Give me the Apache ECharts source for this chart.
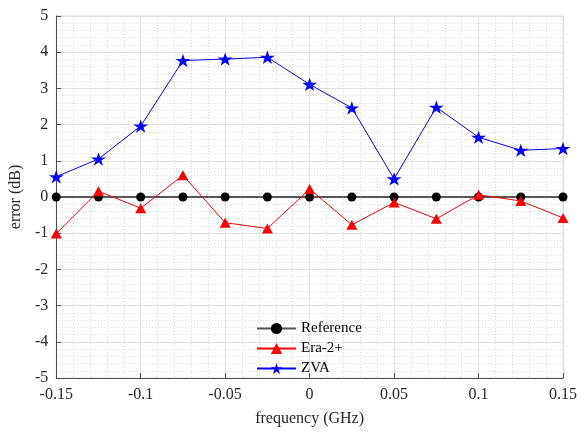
<!DOCTYPE html>
<html><head><meta charset="utf-8">
<script src="https://cdn.jsdelivr.net/npm/echarts@6/dist/echarts.min.js"></script>
<style>html,body{margin:0;padding:0;background:#fff}#c{width:584px;height:432px}</style>
</head><body><div id="c"></div>
<script>
const freq = [-0.15,-0.125,-0.1,-0.075,-0.05,-0.025,0,0.025,0.05,0.075,0.1,0.125,0.15];
const reference = [0,0,0,0,0,0,0,0,0,0,0,0,0];
const era2 = [-1.01,0.16,-0.31,0.6,-0.71,-0.87,0.22,-0.77,-0.15,-0.6,0.06,-0.11,-0.58];
const zva = [0.56,1.05,1.96,3.77,3.81,3.86,3.11,2.46,0.50,2.48,1.65,1.29,1.34];
const xTicks = ['-0.15','-0.1','-0.05','0','0.05','0.1','0.15'];
const names = ['Reference','Era-2+','ZVA'];

const star = 'path://M1,0 L1.2245,0.691 L1.951,0.691 L1.363,1.118 L1.588,1.809 L1,1.382 L0.412,1.809 L0.637,1.118 L0.049,0.691 L0.7755,0.691 Z';
const font = 'Liberation Serif';
const pairs = arr => freq.map((f,i)=>[f,arr[i]]);

const chart = echarts.init(document.getElementById('c'));
chart.setOption({
  animation:false,
  grid:{left:53,right:21,top:16,bottom:45,show:true,borderColor:'#dcdcdc',borderWidth:1},
  xAxis:{type:'value',min:-0.15,max:0.15,interval:0.05,
    name:'frequency (GHz)',nameLocation:'middle',nameGap:33,
    nameTextStyle:{fontFamily:font,fontSize:16,color:'#262626'},
    axisLine:{onZero:false,lineStyle:{color:'#4d4d4d',width:1}},
    axisTick:{inside:true,length:5,lineStyle:{color:'#4d4d4d'}},
    minorTick:{show:false},
    axisLabel:{fontFamily:font,fontSize:16,color:'#262626',margin:9,
      formatter:v=>{const i=Math.round((v+0.15)/0.05);return xTicks[i]||'';}},
    splitLine:{show:true,lineStyle:{color:'#e0e0e0',width:1}},
    minorSplitLine:{show:true,lineStyle:{color:'#dadada',type:[1,2],width:1}}
  },
  yAxis:{type:'value',min:-5,max:5,interval:1,
    name:'error (dB)',nameLocation:'middle',nameGap:28,
    nameTextStyle:{fontFamily:font,fontSize:16,color:'#262626'},
    axisLine:{show:true,onZero:false,lineStyle:{color:'#4d4d4d',width:1}},
    axisTick:{show:true,inside:true,length:5,lineStyle:{color:'#4d4d4d'}},
    minorTick:{show:false,splitNumber:5},
    axisLabel:{fontFamily:font,fontSize:16,color:'#262626',margin:8},
    splitLine:{show:true,lineStyle:{color:'#e0e0e0',width:1}},
    minorSplitLine:{show:true,lineStyle:{color:'#dadada',type:[1,2],width:1}}
  },
  legend:{orient:'vertical',left:251,top:316,itemWidth:39,itemHeight:14,itemGap:5,
    textStyle:{fontFamily:font,fontSize:15,color:'#000',lineHeight:14},
    data:names},
  series:[
    {name:names[0],type:'line',data:pairs(reference),symbol:'circle',symbolSize:9,
      lineStyle:{color:'#555555',width:1.8},itemStyle:{color:'#000'},z:3},
    {name:names[1],type:'line',data:pairs(era2),symbol:'triangle',symbolSize:[11,10],
      lineStyle:{color:'#ff0000',width:1},itemStyle:{color:'#ff0000'},z:4},
    {name:names[2],type:'line',data:pairs(zva),symbol:star,symbolSize:[15,14],symbolKeepAspect:true,
      lineStyle:{color:'#0000ff',width:1},itemStyle:{color:'#0000ff'},z:5}
  ]
});
</script></body></html>
